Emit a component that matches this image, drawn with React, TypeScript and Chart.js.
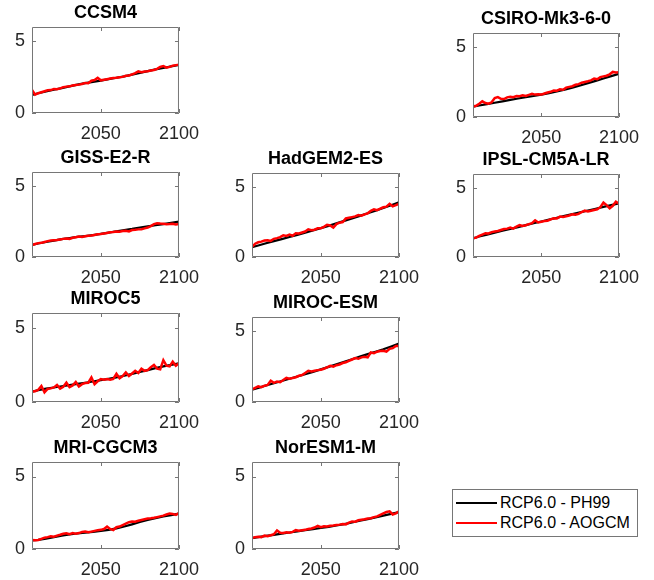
import React, { useEffect, useRef } from "react";
import { Chart, registerables } from "chart.js";

Chart.register(...registerables);

// ---- shared axes ----
const X_MIN = 2006;
const X_MAX = 2100;
const Y_MIN = 0;
const Y_MAX = 6;
const X_TICKS = [2050, 2100];
const Y_TICKS = [0, 5];

// Annual sampling thinned to every second year for the AOGCM runs,
// five-year nodes for the smooth PH99 emulation.
const AOGCM_YEARS = [
  2006, 2008, 2010, 2012, 2014, 2016, 2018, 2020,
  2022, 2024, 2026, 2028, 2030, 2032, 2034, 2036,
  2038, 2040, 2042, 2044, 2046, 2048, 2050, 2052,
  2054, 2056, 2058, 2060, 2062, 2064, 2066, 2068,
  2070, 2072, 2074, 2076, 2078, 2080, 2082, 2084,
  2086, 2088, 2090, 2092, 2094, 2096, 2098, 2100,
];
const PH99_YEARS = [
  2006, 2010, 2015, 2020, 2025, 2030, 2035, 2040, 2045, 2050,
  2055, 2060, 2065, 2070, 2075, 2080, 2085, 2090, 2095, 2100,
];

// ---- CCSM4 ----
const CCSM4_PH99 = [1.26, 1.38, 1.5, 1.62, 1.74, 1.86, 1.98, 2.08, 2.17, 2.26, 2.36, 2.46, 2.56, 2.68, 2.8, 2.92, 3.04, 3.14, 3.25, 3.35];
const CCSM4_AOGCM = [
  1.6, 1.28, 1.38, 1.45, 1.52, 1.58, 1.6, 1.68,
  1.66, 1.72, 1.8, 1.84, 1.86, 1.92, 1.96, 1.98,
  2.02, 2.1, 2.08, 2.25, 2.3, 2.45, 2.28, 2.32,
  2.36, 2.4, 2.44, 2.46, 2.5, 2.52, 2.6, 2.62,
  2.7, 2.78, 2.9, 2.84, 2.9, 2.92, 2.96, 3.0,
  3.08, 3.22, 3.28, 3.16, 3.22, 3.3, 3.34, 3.36,
];

// ---- CSIRO-Mk3-6-0 ----
const CSIRO_PH99 = [0.74, 0.82, 0.92, 1.02, 1.12, 1.22, 1.32, 1.42, 1.5, 1.6, 1.7, 1.82, 1.95, 2.1, 2.25, 2.42, 2.58, 2.75, 2.92, 3.08];
const CSIRO_AOGCM = [
  0.75, 0.8, 0.95, 1.12, 1.0, 0.95, 1.05, 1.35,
  1.42, 1.3, 1.28, 1.4, 1.45, 1.42, 1.5, 1.48,
  1.55, 1.5, 1.58, 1.65, 1.6, 1.62, 1.6, 1.68,
  1.75, 1.8, 1.9, 1.88, 1.98, 1.95, 2.1, 2.15,
  2.2, 2.3, 2.35, 2.45, 2.5, 2.55, 2.62, 2.75,
  2.7, 2.85, 2.9, 2.95, 3.05, 3.22, 3.18, 3.2,
];

// ---- GISS-E2-R ----
const GISS_PH99 = [0.85, 0.95, 1.06, 1.16, 1.26, 1.34, 1.42, 1.48, 1.55, 1.63, 1.72, 1.82, 1.9, 1.98, 2.08, 2.16, 2.24, 2.32, 2.42, 2.5];
const GISS_AOGCM = [
  0.85, 0.92, 0.98, 1.0, 1.06, 1.12, 1.16, 1.18,
  1.2, 1.24, 1.28, 1.3, 1.28, 1.36, 1.4, 1.44,
  1.42, 1.46, 1.5, 1.52, 1.56, 1.6, 1.62, 1.66,
  1.7, 1.74, 1.76, 1.8, 1.78, 1.84, 1.85, 1.8,
  1.9, 1.92, 1.95, 1.96, 2.02, 2.08, 2.18, 2.32,
  2.38, 2.36, 2.35, 2.32, 2.33, 2.35, 2.3, 2.33,
];

// ---- HadGEM2-ES ----
const HADGEM_PH99 = [0.7, 0.82, 0.98, 1.13, 1.28, 1.43, 1.58, 1.74, 1.9, 2.06, 2.22, 2.4, 2.58, 2.76, 2.94, 3.12, 3.3, 3.5, 3.7, 3.9];
const HADGEM_AOGCM = [
  0.72, 0.95, 1.05, 1.1, 1.18, 1.2, 1.15, 1.3,
  1.35, 1.42, 1.55, 1.5, 1.6, 1.52, 1.7, 1.68,
  1.75, 1.82, 1.98, 1.92, 1.95, 2.05, 2.05, 2.15,
  2.3, 2.25, 2.1, 2.35, 2.45, 2.5, 2.75, 2.8,
  2.85, 2.9, 3.0, 2.95, 3.05, 3.12, 3.3, 3.4,
  3.35, 3.45, 3.55, 3.6, 3.8, 3.62, 3.7, 3.8,
];

// ---- IPSL-CM5A-LR ----
const IPSL_PH99 = [1.35, 1.48, 1.62, 1.76, 1.9, 2.03, 2.16, 2.3, 2.44, 2.57, 2.7, 2.84, 2.97, 3.1, 3.23, 3.36, 3.49, 3.62, 3.75, 3.88];
const IPSL_AOGCM = [
  1.35, 1.4, 1.52, 1.62, 1.72, 1.7, 1.8, 1.85,
  1.88, 1.95, 2.02, 2.05, 2.12, 2.05, 2.2, 2.3,
  2.25, 2.3, 2.38, 2.45, 2.65, 2.5, 2.55, 2.6,
  2.62, 2.72, 2.8, 2.78, 2.92, 2.9, 2.95, 3.0,
  3.08, 3.05, 3.12, 3.25, 3.35, 3.3, 3.35, 3.4,
  3.45, 3.6, 3.93, 3.75, 3.52, 3.7, 4.0, 3.85,
];

// ---- MIROC5 ----
const MIROC5_PH99 = [0.7, 0.8, 0.9, 0.98, 1.06, 1.14, 1.22, 1.3, 1.38, 1.47, 1.56, 1.66, 1.77, 1.9, 2.03, 2.15, 2.28, 2.4, 2.5, 2.6];
const MIROC5_AOGCM = [
  0.7, 0.72, 0.82, 1.08, 0.65, 0.88, 0.92, 0.98,
  1.15, 0.9, 1.02, 1.3, 1.0, 1.12, 1.35, 1.05,
  1.2, 1.28, 1.3, 1.65, 1.2, 1.4, 1.55, 1.5,
  1.55, 1.5, 1.55, 1.9, 1.6, 1.75, 2.0, 1.75,
  1.92, 2.1, 1.95, 2.25, 2.1, 2.15, 2.35, 2.5,
  2.25, 2.2, 2.82, 2.45, 2.4, 2.72, 2.45, 2.62,
];

// ---- MIROC-ESM ----
const MIROCESM_PH99 = [0.87, 1.0, 1.16, 1.32, 1.48, 1.64, 1.8, 1.96, 2.12, 2.3, 2.48, 2.66, 2.84, 3.02, 3.2, 3.38, 3.55, 3.72, 3.92, 4.12];
const MIROCESM_AOGCM = [
  0.9, 1.0, 1.1, 1.05, 1.15, 1.2, 1.5, 1.35,
  1.45, 1.4, 1.55, 1.7, 1.65, 1.7, 1.75, 1.85,
  1.9, 2.05, 2.2, 2.15, 2.2, 2.25, 2.28, 2.35,
  2.45, 2.55, 2.5, 2.6, 2.65, 2.75, 2.8, 2.9,
  3.0, 3.1, 3.05, 3.15, 3.2, 3.15, 3.5, 3.45,
  3.55, 3.6, 3.62, 3.55, 3.75, 3.8, 3.95, 3.95,
];

// ---- MRI-CGCM3 ----
const MRI_PH99 = [0.6, 0.63, 0.72, 0.82, 0.92, 1.0, 1.07, 1.13, 1.18, 1.24, 1.32, 1.42, 1.55, 1.7, 1.86, 2.0, 2.12, 2.24, 2.34, 2.44];
const MRI_AOGCM = [
  0.62, 0.6, 0.62, 0.7, 0.78, 0.82, 0.88, 0.85,
  0.92, 0.98, 1.05, 1.08, 1.02, 1.1, 1.05, 1.1,
  1.18, 1.2, 1.15, 1.2, 1.25, 1.3, 1.32, 1.38,
  1.54, 1.38, 1.31, 1.5, 1.55, 1.65, 1.75, 1.85,
  1.9, 1.88, 1.95, 2.0, 2.05, 2.1, 2.12, 2.15,
  2.2, 2.25, 2.3, 2.38, 2.45, 2.42, 2.35, 2.48,
];

// ---- NorESM1-M ----
const NORESM_PH99 = [0.75, 0.82, 0.9, 0.98, 1.06, 1.14, 1.22, 1.3, 1.37, 1.45, 1.53, 1.62, 1.72, 1.83, 1.95, 2.06, 2.18, 2.3, 2.42, 2.55];
const NORESM_AOGCM = [
  0.76, 0.82, 0.85, 0.82, 0.92, 0.88, 0.95, 1.02,
  1.28, 1.12, 1.1, 1.15, 1.12, 1.18, 1.3, 1.26,
  1.3, 1.32, 1.38, 1.42, 1.48, 1.6, 1.5, 1.56,
  1.55, 1.6, 1.62, 1.65, 1.68, 1.72, 1.7, 1.82,
  1.9, 1.88, 1.98, 2.02, 2.05, 2.1, 2.12, 2.2,
  2.25, 2.35, 2.45, 2.55, 2.6, 2.38, 2.45, 2.6,
];

const MODELS = [
  { name: "CCSM4", ph99: CCSM4_PH99, aogcm: CCSM4_AOGCM },
  { name: "CSIRO-Mk3-6-0", ph99: CSIRO_PH99, aogcm: CSIRO_AOGCM },
  { name: "GISS-E2-R", ph99: GISS_PH99, aogcm: GISS_AOGCM },
  { name: "HadGEM2-ES", ph99: HADGEM_PH99, aogcm: HADGEM_AOGCM },
  { name: "IPSL-CM5A-LR", ph99: IPSL_PH99, aogcm: IPSL_AOGCM },
  { name: "MIROC5", ph99: MIROC5_PH99, aogcm: MIROC5_AOGCM },
  { name: "MIROC-ESM", ph99: MIROCESM_PH99, aogcm: MIROCESM_AOGCM },
  { name: "MRI-CGCM3", ph99: MRI_PH99, aogcm: MRI_AOGCM },
  { name: "NorESM1-M", ph99: NORESM_PH99, aogcm: NORESM_AOGCM },
];

const LEGEND_PH99 = "RCP6.0 - PH99";
const LEGEND_AOGCM = "RCP6.0 - AOGCM";

// ---- layout: plot-box edges [left, top, right, bottom] in page pixels ----
const BOXES: Record<string, [number, number, number, number]> = {
  "CCSM4": [32, 27, 183, 113],
  "CSIRO-Mk3-6-0": [473, 33, 623, 117],
  "GISS-E2-R": [32, 172, 183, 257],
  "HadGEM2-ES": [252, 173, 403, 257],
  "IPSL-CM5A-LR": [473, 174, 623, 257],
  "MIROC5": [32, 313, 183, 402],
  "MIROC-ESM": [252, 317, 403, 402],
  "MRI-CGCM3": [32, 462, 183, 549],
  "NorESM1-M": [252, 462, 403, 549],
};

const PAD = { left: 34, top: 32, right: 26, bottom: 36 };
const FONT = "'Liberation Sans', Arial, Helvetica, sans-serif";
const TICK_SIZE = 18;
const TITLE_SIZE = 18;
const TITLE_LH = 1.2;
const TITLE_PAD_BOTTOM = 3;
const FRAME_COLOR = "#767676";
const TICK_LABEL_COLOR = "#262626";

// Box outline plus short inward tick marks on all four sides.
const framePlugin = {
  id: "frame",
  afterDatasetsDraw(chart: any) {
    const { ctx, chartArea } = chart;
    const { left, top, right, bottom } = chartArea;
    const xs = chart.scales.x;
    const ys = chart.scales.y;
    ctx.save();
    ctx.strokeStyle = FRAME_COLOR;
    ctx.lineWidth = 1;
    ctx.beginPath();
    ctx.rect(left + 0.5, top + 0.5, right - left - 1, bottom - top - 1);
    const tl = 4;
    for (const v of X_TICKS) {
      const px = Math.round(xs.getPixelForValue(v)) + 0.5;
      ctx.moveTo(px, bottom);
      ctx.lineTo(px, bottom - tl);
      ctx.moveTo(px, top);
      ctx.lineTo(px, top + tl);
    }
    for (const v of Y_TICKS) {
      const py = Math.round(ys.getPixelForValue(v)) + 0.5;
      ctx.moveTo(left, py);
      ctx.lineTo(left + tl, py);
      ctx.moveTo(right, py);
      ctx.lineTo(right - tl, py);
    }
    ctx.stroke();
    ctx.restore();
  },
};

function Panel({ name, ph99, aogcm }: { name: string; ph99: number[]; aogcm: number[] }) {
  const ref = useRef<HTMLCanvasElement>(null);
  const [l, t, r, b] = BOXES[name];
  const w = r - l + PAD.left + PAD.right;
  const h = b - t + PAD.top + PAD.bottom;

  useEffect(() => {
    const titleH = TITLE_SIZE * TITLE_LH + TITLE_PAD_BOTTOM;
    const chart = new Chart(ref.current as HTMLCanvasElement, {
      type: "line",
      data: {
        datasets: [
          {
            label: LEGEND_AOGCM,
            data: AOGCM_YEARS.map((x, i) => ({ x, y: aogcm[i] })),
            borderColor: "#ff0000",
            backgroundColor: "#ff0000",
            borderWidth: 2.5,
            pointRadius: 0,
            tension: 0,
            order: 0,
          },
          {
            label: LEGEND_PH99,
            data: PH99_YEARS.map((x, i) => ({ x, y: ph99[i] })),
            borderColor: "#000000",
            backgroundColor: "#000000",
            borderWidth: 2.2,
            pointRadius: 0,
            tension: 0,
            order: 1,
          },
        ],
      },
      options: {
        responsive: false,
        animation: false,
        events: [],
        layout: {
          padding: { left: 0, right: PAD.right, top: PAD.top - titleH, bottom: 0 },
        },
        plugins: {
          legend: { display: false },
          tooltip: { enabled: false },
          title: {
            display: true,
            text: name,
            fullSize: false,
            color: "#000000",
            font: { family: FONT, size: TITLE_SIZE, weight: "bold", lineHeight: TITLE_LH },
            padding: { top: 0, bottom: TITLE_PAD_BOTTOM },
          },
        },
        scales: {
          x: {
            type: "linear",
            min: X_MIN,
            max: X_MAX,
            grid: { display: false, drawTicks: false },
            border: { display: false },
            afterBuildTicks: (s: any) => {
              s.ticks = X_TICKS.map((v) => ({ value: v }));
            },
            afterFit: (s: any) => {
              s.height = PAD.bottom;
            },
            ticks: {
              autoSkip: false,
              maxRotation: 0,
              padding: 10,
              color: TICK_LABEL_COLOR,
              font: { family: FONT, size: TICK_SIZE },
              callback: (v: any) => String(v),
            },
          },
          y: {
            type: "linear",
            min: Y_MIN,
            max: Y_MAX,
            grid: { display: false, drawTicks: false },
            border: { display: false },
            afterBuildTicks: (s: any) => {
              s.ticks = Y_TICKS.map((v) => ({ value: v }));
            },
            afterFit: (s: any) => {
              s.width = PAD.left;
            },
            ticks: {
              padding: 7,
              color: TICK_LABEL_COLOR,
              font: { family: FONT, size: TICK_SIZE },
              callback: (v: any) => String(v),
            },
          },
        },
      },
      plugins: [framePlugin],
    } as any);
    return () => chart.destroy();
  }, [name, ph99, aogcm]);

  return (
    <canvas
      ref={ref}
      width={w}
      height={h}
      style={{ position: "absolute", left: l - PAD.left, top: t - PAD.top, width: w, height: h }}
    />
  );
}

function Legend() {
  const row = (label: string, color: string, y: number) => (
    <div style={{ position: "absolute", left: 0, top: y - 10, height: 20, width: "100%" }}>
      <div style={{ position: "absolute", left: 3, top: 9, width: 41, height: 2, background: color }} />
      <div style={{ position: "absolute", left: 47, top: 0, lineHeight: "20px", whiteSpace: "nowrap" }}>{label}</div>
    </div>
  );
  return (
    <div
      style={{
        position: "absolute",
        left: 452,
        top: 489,
        width: 184,
        height: 46,
        border: `1px solid ${FRAME_COLOR}`,
        background: "#ffffff",
        fontFamily: FONT,
        fontSize: 16,
        color: "#000000",
      }}
    >
      {row(LEGEND_PH99, "#000000", 13)}
      {row(LEGEND_AOGCM, "#ff0000", 33)}
    </div>
  );
}

export default function App() {
  return (
    <div style={{ position: "absolute", left: 0, top: 0, width: 654, height: 580, background: "#ffffff", overflow: "hidden" }}>
      {MODELS.map((m) => (
        <Panel key={m.name} name={m.name} ph99={m.ph99} aogcm={m.aogcm} />
      ))}
      <Legend />
    </div>
  );
}
